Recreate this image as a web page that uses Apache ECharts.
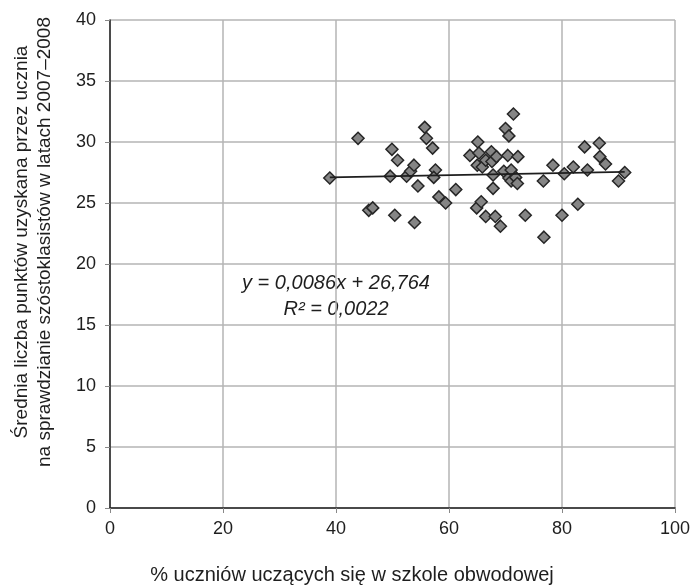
<!DOCTYPE html>
<html>
<head>
<meta charset="utf-8">
<script src="https://cdn.jsdelivr.net/npm/echarts@6/dist/echarts.min.js"></script>
<style>
  html, body { margin: 0; padding: 0; background: #fff; }
  #chart { width: 696px; height: 586px; }
</style>
</head>
<body>
<div id="chart"></div>
<script>
// % of pupils attending their catchment-area school
const shareX = [
  38.9, 43.9, 45.8, 46.5, 49.9, 50.9, 49.6, 50.4, 52.5, 53.2, 53.8, 53.9, 54.5,
  55.7, 56.0, 57.1, 57.6, 57.3, 58.2, 59.4, 61.2,
  63.7, 64.9, 65.0, 65.1, 65.3, 65.7, 65.9, 66.5, 66.5, 67.5, 67.6, 67.8, 67.8,
  68.2, 68.4, 69.1, 69.7, 70.0, 70.4, 70.6, 70.6, 71.0, 71.0, 71.4, 71.8, 72.1, 72.2,
  73.5, 76.7, 76.8, 78.4, 80.0, 80.4, 82.0, 82.8, 84.0, 84.5, 86.6, 86.7, 87.7, 90.0, 91.1
];
// average points per pupil, 2007-2008
const scoreY = [
  27.05, 30.3, 24.4, 24.6, 29.4, 28.5, 27.2, 24.0, 27.2, 27.6, 28.1, 23.4, 26.4,
  31.2, 30.3, 29.5, 27.7, 27.1, 25.5, 25.0, 26.1,
  28.9, 24.6, 28.1, 30.0, 29.1, 25.1, 27.95, 28.5, 23.9, 29.2, 28.4, 27.3, 26.2,
  23.9, 28.8, 23.1, 27.6, 31.1, 28.9, 30.5, 27.05, 27.7, 26.8, 32.3, 27.1, 26.6, 28.8,
  24.0, 26.8, 22.2, 28.1, 24.0, 27.4, 27.95, 24.9, 29.6, 27.7, 29.9, 28.8, 28.2, 26.8, 27.5
];
const xTicks = [0, 20, 40, 60, 80, 100];
const yTicks = [0, 5, 10, 15, 20, 25, 30, 35, 40];
// linear trend as printed on the chart
const slope = 0.0086;
const intercept = 26.764;
const r2 = '0,0022';

const points = shareX.map((x, i) => [x, scoreY[i]]);
const xMin = Math.min(...shareX);
const xMax = Math.max(...shareX);
const trend = [[xMin, intercept + slope * xMin], [xMax, intercept + slope * xMax]];

const font = '"Liberation Sans", Arial, sans-serif';
const txt = '#1e1e1e';

const chart = echarts.init(document.getElementById('chart'));
chart.setOption({
  animation: false,
  grid: { left: 110, right: 21, top: 20, bottom: 78, containLabel: false },
  xAxis: {
    type: 'value',
    min: xTicks[0],
    max: xTicks[xTicks.length - 1],
    interval: 20,
    axisLine: { show: true, lineStyle: { color: '#222', width: 1.5 } },
    axisTick: { show: true, length: 5, lineStyle: { color: '#888', width: 1 } },
    axisLabel: { margin: 12, fontSize: 18, color: txt, fontFamily: font },
    splitLine: { show: true, lineStyle: { color: '#b5b5b5', width: 1.5 } }
  },
  yAxis: {
    type: 'value',
    min: yTicks[0],
    max: yTicks[yTicks.length - 1],
    interval: 5,
    axisLine: { show: true, lineStyle: { color: '#222', width: 1.5 } },
    axisTick: { show: true, length: 5, lineStyle: { color: '#888', width: 1 } },
    axisLabel: { margin: 14, fontSize: 18, color: txt, fontFamily: font },
    splitLine: { show: true, lineStyle: { color: '#b5b5b5', width: 1.5 } }
  },
  series: [
    {
      type: 'scatter',
      symbol: 'diamond',
      symbolSize: 12,
      itemStyle: { color: '#858585', borderColor: '#262626', borderWidth: 1.5, opacity: 1 },
      data: points,
      z: 2
    },
    {
      type: 'line',
      data: trend,
      symbol: 'none',
      lineStyle: { color: '#1e1e1e', width: 1.8 },
      z: 3
    }
  ],
  graphic: [
    {
      type: 'text',
      x: 336, y: 283,
      style: {
        text: 'y = 0,0086x + 26,764',
        font: 'italic 20px ' + font,
        fill: txt, align: 'center', verticalAlign: 'middle'
      }
    },
    {
      type: 'text',
      x: 336, y: 309,
      style: {
        text: 'R² = ' + r2,
        font: 'italic 20px ' + font,
        fill: txt, align: 'center', verticalAlign: 'middle'
      }
    },
    {
      type: 'text',
      x: 352, y: 575,
      style: {
        text: '% uczniów uczących się w szkole obwodowej',
        font: '20px ' + font,
        fill: txt, align: 'center', verticalAlign: 'middle'
      }
    },
    {
      type: 'text',
      x: 33, y: 242,
      rotation: Math.PI / 2,
      style: {
        text: 'Średnia liczba punktów uzyskana przez ucznia\nna sprawdzianie szóstoklasistów w latach 2007–2008',
        font: '19px ' + font,
        lineHeight: 23,
        fill: txt, align: 'center', verticalAlign: 'middle'
      }
    }
  ]
});
</script>
</body>
</html>
